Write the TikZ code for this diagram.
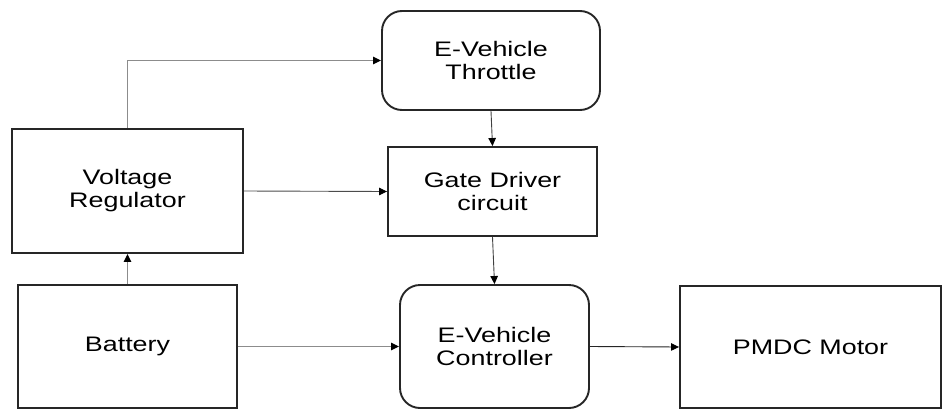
\documentclass[tikz,border=0pt]{standalone}
\usepackage{fontspec}
\setmainfont{Liberation Sans}[FakeStretch=1.28]
\usetikzlibrary{arrows.meta}
\begin{document}
\begin{tikzpicture}[x=1pt,y=-1pt,
  box/.style={draw=black!85,line width=1.9pt,inner sep=0pt,align=center,
    font=\fontsize{21}{23}\selectfont},
  rbox/.style={box,rounded corners=20pt},
  arr/.style={-{Triangle[length=8pt,width=7.5pt,fill=black,color=black]},line width=0.9pt},
  garr/.style={arr,draw=black!45,line width=1.3pt}]
\useasboundingbox (0,0) rectangle (943,410);
\node[rbox,minimum width=218pt,minimum height=99pt] (thr) at (491,60.5) {E-Vehicle\\Throttle};
\node[box,minimum width=231pt,minimum height=124pt] (vr) at (127.5,191) {Voltage\\Regulator};
\node[box,minimum width=209pt,minimum height=89pt] (gd) at (492.5,191.5) {Gate Driver\\circuit};
\node[box,minimum width=219pt,minimum height=123pt] (bat) at (127.5,346.5) {Battery};
\node[rbox,minimum width=189pt,minimum height=123pt] (ctl) at (494.5,346.5) {E-Vehicle\\Controller};
\node[box,minimum width=261pt,minimum height=122pt] (mot) at (810.5,347) {PMDC Motor};
\draw[garr] (vr.north) |- (thr.west);
\draw[arr,draw=black!70] (vr.east) -- (gd.west);
\draw[arr,draw=black!75] (thr.south) -- (gd.north);
\draw[garr] (bat.north) -- (vr.south);
\draw[garr] (bat.east) -- (ctl.west);
\draw[arr,draw=black!75] (gd.south) -- (ctl.north);
\draw[arr,draw=black!85] (ctl.east) -- (mot.west);
\end{tikzpicture}
\end{document}
